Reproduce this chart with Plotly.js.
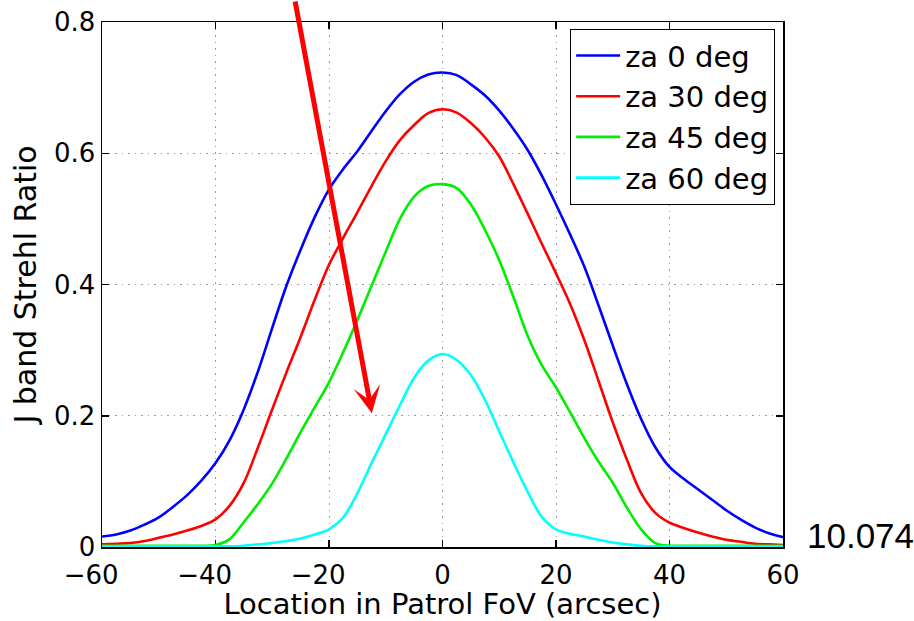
<!DOCTYPE html>
<html>
<head>
<meta charset="utf-8">
<script src="https://cdn.plot.ly/plotly-3.0.1.min.js"></script>
<style>
  html, body { margin: 0; padding: 0; background: #fff; }
  #chart { width: 914px; height: 621px; }
</style>
</head>
<body>
<div id="chart"></div>
<script>
// ---- data ----
const locationArcsec = [
  -60,-57.5,-55,-52.5,-50,-47.5,-45,-42.5,-40,-37.5,-35,-32.5,-30,-27.5,-25,-22.5,-20,-17.5,-15,-12.5,-10,-7.5,-5,-2.5,
  0,
  2.5,5,7.5,10,12.5,15,17.5,20,22.5,25,27.5,30,32.5,35,37.5,40,42.5,45,47.5,50,52.5,55,57.5,60];

const seriesNames = ["za 0 deg", "za 30 deg", "za 45 deg", "za 60 deg"];
const za0 = [
  0.016,0.019,0.025,0.034,0.045,0.061,0.079,0.101,0.128,0.163,0.210,0.268,0.334,0.398,0.453,0.503,0.545,0.576,0.603,0.634,0.664,0.690,0.709,0.720,
  0.723,
  0.719,0.705,0.688,0.665,0.637,0.605,0.566,0.522,0.476,0.427,0.368,0.307,0.248,0.195,0.152,0.122,0.104,0.088,0.072,0.056,0.042,0.030,0.021,0.015];
const za30 = [
  0.004,0.005,0.006,0.009,0.014,0.019,0.025,0.032,0.042,0.063,0.098,0.152,0.210,0.266,0.320,0.377,0.430,0.471,0.510,0.550,0.588,0.620,0.643,0.661,
  0.667,
  0.662,0.646,0.624,0.595,0.553,0.508,0.462,0.417,0.370,0.315,0.253,0.190,0.133,0.082,0.052,0.037,0.029,0.022,0.016,0.011,0.008,0.005,0.004,0.003];
const za45 = [
  0.002,0.002,0.002,0.002,0.002,0.002,0.002,0.002,0.003,0.012,0.038,0.066,0.097,0.135,0.175,0.213,0.251,0.297,0.346,0.398,0.450,0.500,0.534,0.550,
  0.553,
  0.547,0.522,0.483,0.437,0.381,0.322,0.277,0.243,0.205,0.166,0.130,0.098,0.060,0.027,0.006,0.002,0.002,0.002,0.002,0.002,0.002,0.002,0.002,0.002];
const za60 = [
  0.001,0.001,0.001,0.001,0.001,0.001,0.001,0.001,0.001,0.001,0.002,0.004,0.006,0.009,0.013,0.019,0.027,0.045,0.082,0.128,0.172,0.216,0.258,0.284,
  0.294,
  0.285,0.262,0.224,0.176,0.129,0.084,0.046,0.027,0.020,0.016,0.011,0.007,0.004,0.002,0.001,0.001,0.001,0.001,0.001,0.001,0.001,0.001,0.001,0.001];
const seriesColors = ["#0000ff", "#ff0000", "#00ee00", "#00ffff"];

const xTickVals = [-60,-40,-20,0,20,40,60];
const xTickText = ["\u221260","\u221240","\u221220","0","20","40","60"];
const yTickVals = [0,0.2,0.4,0.6,0.8];
const yTickText = ["0","0.2","0.4","0.6","0.8"];

const xTitle = "Location in Patrol FoV (arcsec)";
const yTitle = "J band Strehl Ratio";
const sideNote = "10.074";

// arrow annotation: tip in data units, tail offset in pixels
const arrowTip = {x: -12.45, y: 0.204};
const arrowTail = {ax: -77, ay: -433};

// ---- build ----
const allSeries = [za0, za30, za45, za60];
const traces = allSeries.map((vals, i) => ({
  type: "scatter",
  mode: "lines",
  x: locationArcsec,
  y: vals,
  name: seriesNames[i],
  legendgroup: "g" + i,
  line: {color: seriesColors[i], width: 2.6, shape: "spline", smoothing: 0.95}
}));

// pad negative labels so the digits sit centred on the tick (minus hangs left)
const padded = xTickText.map(t => t.startsWith("\u2212") ? t + "\u2007\u2009" : t);

const FONT = "DejaVu Sans, Arial, sans-serif";
const axisCommon = {
  showline: true, linecolor: "#000", linewidth: 1.5, mirror: "ticks",
  ticks: "inside", ticklen: 7, tickwidth: 1.5, tickcolor: "#000",
  showgrid: true, gridcolor: "#9a9a9a", gridwidth: 1, griddash: "1.5px,5px",
  zeroline: false, layer: "below traces",
  tickfont: {family: FONT, size: 26, color: "#000"}
};

const layout = {
  width: 914, height: 621,
  margin: {l: 102, r: 131, t: 22, b: 74, pad: 0},
  paper_bgcolor: "#fff", plot_bgcolor: "#fff",
  font: {family: FONT, color: "#000"},
  showlegend: true,
  legend: {
    x: 0.988, y: 0.987, xanchor: "right", yanchor: "top",
    bgcolor: "#fff", bordercolor: "#000", borderwidth: 1.3,
    font: {family: FONT, size: 29, color: "#000"},
    traceorder: "grouped", tracegroupgap: 0, itemwidth: 44
  },
  xaxis: Object.assign({}, axisCommon, {
    range: [-60, 60], tickmode: "array", tickvals: xTickVals, ticktext: padded,
    ticklabelstandoff: 4,
    title: {text: xTitle, font: {family: FONT, size: 29, color: "#000"}, standoff: 3}
  }),
  yaxis: Object.assign({}, axisCommon, {
    range: [0, 0.8], tickmode: "array", tickvals: yTickVals, ticktext: yTickText,
    title: {text: yTitle, font: {family: FONT, size: 30, color: "#000"}, standoff: 8}
  }),
  annotations: [
    {
      x: arrowTip.x, y: arrowTip.y, xref: "x", yref: "y",
      ax: arrowTail.ax, ay: arrowTail.ay,
      text: "", showarrow: true,
      arrowhead: 3, arrowsize: 0.9, arrowwidth: 5, arrowcolor: "#ff0000",
      standoff: 0, startstandoff: 0
    },
    {
      x: 1.033, y: 0.021, xref: "paper", yref: "paper",
      xanchor: "left", yanchor: "middle", showarrow: false,
      text: sideNote,
      font: {family: "Liberation Sans, Arial, sans-serif", size: 35, color: "#000"}
    }
  ]
};

Plotly.newPlot("chart", traces, layout, {staticPlot: true, displayModeBar: false});
</script>
</body>
</html>
